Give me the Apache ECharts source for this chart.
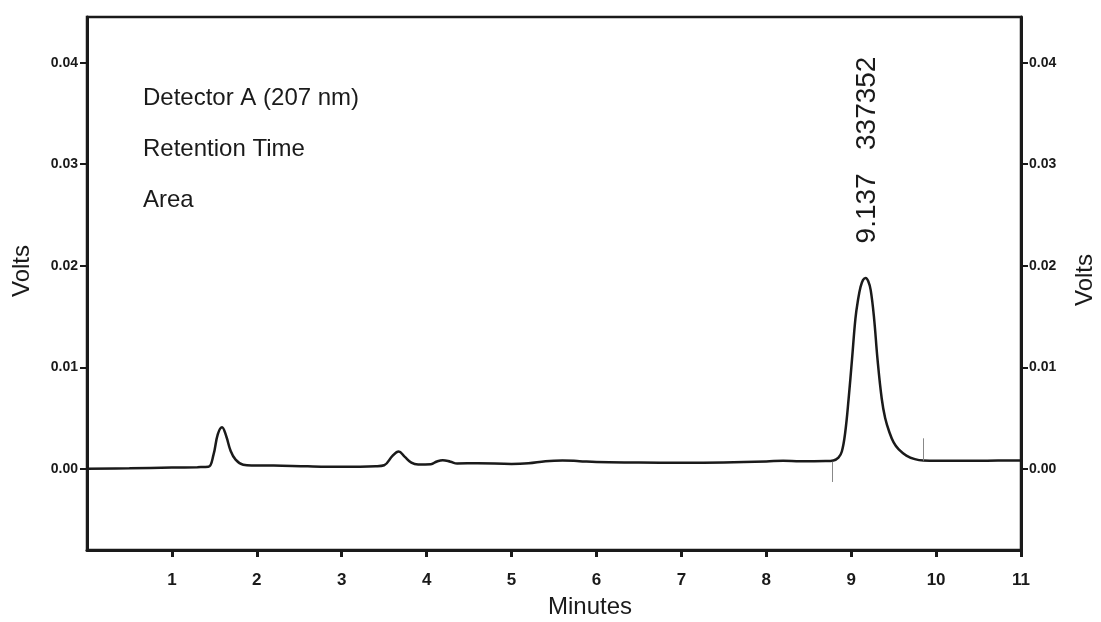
<!DOCTYPE html>
<html>
  <head>
    <meta charset="utf-8" />
    <title>Chromatogram</title>
    <script src="https://cdn.jsdelivr.net/npm/echarts@6/dist/echarts.min.js"></script>
  </head>
  <body style="margin: 0; background: #fff">
    <div id="chart" style="width: 1101px; height: 622px"></div>
    <script>
      /* ======= data ======= */
      var minutes = [
        0.0, 0.5, 1.0, 1.3, 1.43, 1.49, 1.54, 1.59, 1.64, 1.69, 1.75, 1.84, 1.95,
        2.2, 2.6, 3.0, 3.4, 3.5, 3.6, 3.67, 3.74, 3.82, 3.9, 4.05, 4.12, 4.19,
        4.28, 4.36, 4.6, 5.0, 5.2, 5.4, 5.6, 5.8, 6.0, 6.5, 7.0, 7.5, 8.0, 8.2,
        8.4, 8.7, 8.79, 8.85, 8.89, 8.93, 8.97, 9.01, 9.05, 9.08, 9.11, 9.14,
        9.17, 9.2, 9.23, 9.27, 9.31, 9.36, 9.4, 9.45, 9.5, 9.56, 9.65, 9.75,
        9.85, 10.2, 10.6, 11.0,
      ];
      var volts = [
        0.0, 0.00005, 0.00012, 0.00016, 0.0002, 0.0014, 0.0034, 0.0041, 0.0032,
        0.0018, 0.0009, 0.0004, 0.00033, 0.00032, 0.00024, 0.0002, 0.00025,
        0.00035, 0.0013, 0.0017, 0.0012, 0.0006, 0.00042, 0.00045, 0.00072,
        0.00085, 0.0007, 0.00052, 0.00055, 0.00048, 0.00055, 0.00075, 0.00082,
        0.00075, 0.00066, 0.00062, 0.00059, 0.00062, 0.00072, 0.0008, 0.00074,
        0.00076, 0.00082, 0.0011, 0.0017, 0.0036, 0.0069, 0.0108, 0.0148,
        0.0166, 0.0179, 0.0186, 0.0188, 0.0185, 0.0176, 0.0148, 0.0108, 0.0069,
        0.005, 0.0036, 0.0026, 0.0019, 0.0013, 0.00095, 0.00082, 0.00078,
        0.0008, 0.00082,
      ];
      // integration start / end markers [minute, from, to]
      var markers = [
        [8.78, 0.0007, -0.0013],
        [9.85, 0.003, 0.0008],
      ];
      var xTicks = [1, 2, 3, 4, 5, 6, 7, 8, 9, 10, 11];
      var yTicks = [0, 0.01, 0.02, 0.03, 0.04];
      var infoLines = ["Detector A (207 nm)", "Retention Time", "Area"];
      var peakLabel = "9.137   337352";

      var ink = "#1a1a1a";
      var font = "Liberation Sans, Arial, sans-serif";

      var data = minutes.map(function(m, i) {
        return [m, volts[i]];
      });
      var markData = markers.map(function(mk) {
        return [{ coord: [mk[0], mk[1]] }, { coord: [mk[0], mk[2]] }];
      });

      function yAxisFor(pos) {
        return {
          type: "value",
          position: pos,
          min: -0.008,
          max: 0.0445,
          splitLine: { show: false },
          axisLine: {
            show: true,
            onZero: false,
            lineStyle: { color: ink, width: 3 },
          },
          axisTick: {
            show: true,
            customValues: yTicks,
            length: 7,
            lineStyle: { color: ink, width: 2 },
          },
          axisLabel: {
            customValues: yTicks,
            margin: pos === "left" ? 9 : 8,
            color: ink,
            fontFamily: font,
            fontWeight: "bold",
            fontSize: 14,
            formatter: function(v) {
              return v.toFixed(2);
            },
          },
        };
      }

      var texts = infoLines.map(function(t, i) {
        return {
          type: "text",
          left: 143,
          top: 86 + i * 51,
          style: { text: t, fill: ink, font: "24px " + font },
        };
      });
      texts.push(
        {
          type: "text",
          x: 867,
          y: 150,
          rotation: Math.PI / 2,
          style: {
            text: peakLabel,
            fill: ink,
            font: "28px " + font,
            align: "center",
            verticalAlign: "middle",
          },
        },
        {
          type: "text",
          x: 22,
          y: 271,
          rotation: Math.PI / 2,
          style: {
            text: "Volts",
            fill: ink,
            font: "24px " + font,
            align: "center",
            verticalAlign: "middle",
          },
        },
        {
          type: "text",
          x: 1085,
          y: 280,
          rotation: Math.PI / 2,
          style: {
            text: "Volts",
            fill: ink,
            font: "24px " + font,
            align: "center",
            verticalAlign: "middle",
          },
        },
        {
          type: "text",
          x: 590,
          y: 607,
          style: {
            text: "Minutes",
            fill: ink,
            font: "24px " + font,
            align: "center",
            verticalAlign: "middle",
          },
        }
      );

      var option = {
        animation: false,
        backgroundColor: "#fff",
        grid: {
          left: 87,
          right: 80,
          top: 17,
          bottom: 72,
          show: true,
          borderColor: ink,
          borderWidth: 2.5,
        },
        xAxis: {
          type: "value",
          min: 0,
          max: 11,
          interval: 1,
          splitLine: { show: false },
          axisLine: {
            show: true,
            onZero: false,
            lineStyle: { color: ink, width: 3 },
          },
          axisTick: {
            show: true,
            customValues: xTicks,
            length: 7,
            lineStyle: { color: ink, width: 3 },
          },
          axisLabel: {
            customValues: xTicks,
            margin: 22,
            color: ink,
            fontFamily: font,
            fontWeight: "bold",
            fontSize: 17,
          },
        },
        yAxis: [yAxisFor("left"), yAxisFor("right")],
        graphic: texts,
        series: [
          {
            type: "line",
            data: data,
            showSymbol: false,
            smooth: 0.4,
            lineStyle: { color: ink, width: 2.5 },
            markLine: {
              silent: true,
              symbol: "none",
              label: { show: false },
              lineStyle: { color: "#888", width: 1, type: "solid" },
              data: markData,
            },
          },
        ],
      };

      var chart = echarts.init(document.getElementById("chart"));
      chart.setOption(option);
    </script>
  </body>
</html>
